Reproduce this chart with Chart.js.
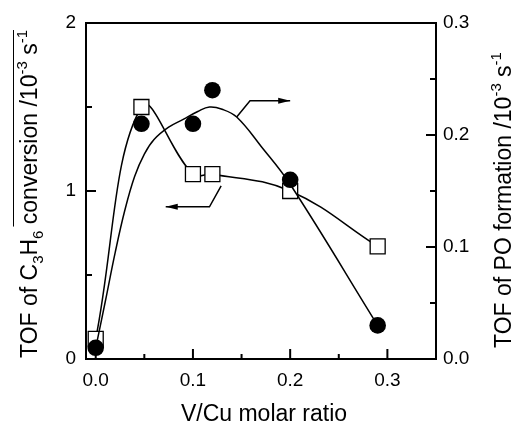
<!DOCTYPE html>
<html>
<head>
<meta charset="utf-8">
<script src="https://cdn.jsdelivr.net/npm/chart.js@4.4.1/dist/chart.umd.min.js"></script>
<style>
  html, body { margin: 0; padding: 0; background: #fff; }
</style>
</head>
<body>
<canvas id="tofChart" width="513" height="426"></canvas>
<script>
// V/Cu molar ratio of the catalysts
const vcuRatio = [0, 0.047, 0.1, 0.12, 0.2, 0.29];
// TOF of C3H6 conversion (left axis, 10^-3 s^-1)
const c3h6Tof = [0.12, 1.5, 1.1, 1.1, 1.0, 0.67];
// TOF of PO formation (right axis, 10^-3 s^-1)
const poTof = [0.01, 0.21, 0.21, 0.24, 0.16, 0.03];

// smooth trend line drawn through the PO data
const poTrendX = [0, 0.01, 0.02, 0.03, 0.04, 0.05, 0.06, 0.075, 0.09, 0.105, 0.117, 0.13, 0.145, 0.17, 0.2, 0.29];
const poTrendY = [0.01, 0.052, 0.095, 0.133, 0.163, 0.183, 0.196, 0.207, 0.214, 0.221, 0.225, 0.223, 0.216, 0.19, 0.156, 0.03];

// pointer arrows telling which axis each curve belongs to
const leftArrowX = [0.129, 0.117, 0.072];
const leftArrowY = [1.03, 0.906, 0.906];
const rightArrowX = [0.145, 0.1587, 0.2];
const rightArrowY = [0.216, 0.2306, 0.2306];

// tick positions
const xMajor = [0, 0.1, 0.2, 0.3];
const xMinor = [0.05, 0.15, 0.25];
const leftMajor = [0, 1, 2];
const leftMinor = [0.5, 1.5];
const rightMajor = [0, 0.1, 0.2, 0.3];
const rightMinor = [0.05, 0.15, 0.25];

// axis titles, split into normal / sub / sup runs
const xTitle = 'V/Cu molar ratio';
const leftTitle = [['TOF of C', 'n'], ['3', 'sub'], ['H', 'n'], ['6', 'sub'], [' conversion /10', 'n', 'over'], ['-3', 'sup', 'over'], [' s', 'n', 'over'], ['-1', 'sup', 'over']];
const rightTitle = [['TOF of PO formation /10', 'n'], ['-3', 'sup'], [' s', 'n'], ['-1', 'sup']];

const FONT = '"Liberation Sans", Arial, sans-serif';

function pairs(xs, ys) {
    return xs.map((x, i) => ({ x: x, y: ys[i] }));
}

// frame plus inward tick marks
const framePlugin = {
    id: 'frame',
    afterDatasetsDraw(chart) {
        const { ctx, chartArea: a, scales } = chart;
        ctx.save();
        ctx.strokeStyle = '#000';
        ctx.lineWidth = 2;
        ctx.strokeRect(a.left, a.top, a.right - a.left, a.bottom - a.top);

        ctx.beginPath();
        xMajor.forEach(v => { const p = scales.x.getPixelForValue(v); ctx.moveTo(p, a.bottom); ctx.lineTo(p, a.bottom - 10); });
        xMinor.forEach(v => { const p = scales.x.getPixelForValue(v); ctx.moveTo(p, a.bottom); ctx.lineTo(p, a.bottom - 5); });
        leftMajor.forEach(v => { const p = scales.yL.getPixelForValue(v); ctx.moveTo(a.left, p); ctx.lineTo(a.left + 10, p); });
        leftMinor.forEach(v => { const p = scales.yL.getPixelForValue(v); ctx.moveTo(a.left, p); ctx.lineTo(a.left + 6, p); });
        rightMajor.forEach(v => { const p = scales.yR.getPixelForValue(v); ctx.moveTo(a.right, p); ctx.lineTo(a.right - 10, p); });
        rightMinor.forEach(v => { const p = scales.yR.getPixelForValue(v); ctx.moveTo(a.right, p); ctx.lineTo(a.right - 6, p); });
        ctx.stroke();
        ctx.restore();
    }
};

// arrow heads on the pointer lines
const arrowPlugin = {
    id: 'arrowHeads',
    afterDatasetsDraw(chart) {
        const ctx = chart.ctx;
        chart.data.datasets.forEach((ds, i) => {
            if (!ds.arrow) return;
            const pts = chart.getDatasetMeta(i).data;
            const a = pts[pts.length - 2], b = pts[pts.length - 1];
            const ang = Math.atan2(b.y - a.y, b.x - a.x);
            ctx.save();
            ctx.translate(b.x, b.y);
            ctx.rotate(ang);
            ctx.fillStyle = '#000';
            ctx.beginPath();
            ctx.moveTo(0, 0);
            ctx.lineTo(-12, -3);
            ctx.lineTo(-12, 3);
            ctx.closePath();
            ctx.fill();
            ctx.restore();
        });
    }
};

// draws a run list rotated -90deg starting at (x, y), going upward
function drawRuns(ctx, runs, x, y, size, overOffset) {
    const small = Math.round(size * 0.65);
    ctx.save();
    ctx.translate(x, y);
    ctx.rotate(-Math.PI / 2);
    ctx.fillStyle = '#000';
    ctx.textBaseline = 'alphabetic';
    ctx.textAlign = 'left';
    let pos = 0, overStart = null;
    runs.forEach(r => {
        const kind = r[1];
        const sz = kind === 'n' ? size : small;
        ctx.font = sz + 'px ' + FONT;
        let dy = 0;
        if (kind === 'sub') dy = size * 0.28;
        if (kind === 'sup') dy = -size * 0.45;
        if (r[2] === 'over' && overStart === null) overStart = pos;
        ctx.fillText(r[0], pos, dy);
        pos += ctx.measureText(r[0]).width;
    });
    if (overStart !== null) {
        ctx.strokeStyle = '#000';
        ctx.lineWidth = 1;
        ctx.beginPath();
        ctx.moveTo(overStart + 4, overOffset);
        ctx.lineTo(pos, overOffset);
        ctx.stroke();
    }
    ctx.restore();
}

const titlePlugin = {
    id: 'axisTitles',
    afterDraw(chart) {
        const ctx = chart.ctx;
        ctx.save();
        ctx.fillStyle = '#000';
        ctx.font = '23px ' + FONT;
        ctx.textBaseline = 'alphabetic';
        ctx.textAlign = 'center';
        const a = chart.chartArea;
        ctx.fillText(xTitle, (a.left + a.right) / 2 + 3, 421);
        ctx.restore();
        drawRuns(ctx, leftTitle, 37, 358, 23, -23.5);
        drawRuns(ctx, rightTitle, 511, 348, 23, null);
    }
};

const ctx = document.getElementById('tofChart').getContext('2d');
const tofChart = new Chart(ctx, {
    type: 'line',
    data: {
        datasets: [
            {
                label: 'PO formation',
                data: pairs(vcuRatio, poTof),
                yAxisID: 'yR',
                showLine: false,
                pointStyle: 'circle',
                pointRadius: 8.3,
                pointBackgroundColor: '#000',
                pointBorderWidth: 0,
                order: 0
            },
            {
                label: 'PO trend',
                data: pairs(poTrendX, poTrendY),
                yAxisID: 'yR',
                borderColor: '#000',
                borderWidth: 1.5,
                tension: 0.4,
                pointRadius: 0,
                order: 1
            },
            {
                label: 'C3H6 conversion',
                data: pairs(vcuRatio, c3h6Tof),
                yAxisID: 'yL',
                borderColor: '#000',
                borderWidth: 1.5,
                tension: 0.4,
                pointStyle: 'rect',
                pointRadius: 10.6,
                pointBackgroundColor: '#fff',
                pointBorderColor: '#000',
                pointBorderWidth: 1.3,
                order: 2
            },
            {
                label: 'left arrow',
                data: pairs(leftArrowX, leftArrowY),
                yAxisID: 'yL',
                borderColor: '#000',
                borderWidth: 1.5,
                tension: 0,
                pointRadius: 0,
                arrow: true,
                order: 3
            },
            {
                label: 'right arrow',
                data: pairs(rightArrowX, rightArrowY),
                yAxisID: 'yR',
                borderColor: '#000',
                borderWidth: 1.5,
                tension: 0,
                pointRadius: 0,
                arrow: true,
                order: 3
            }
        ]
    },
    options: {
        responsive: false,
        animation: false,
        layout: { autoPadding: false, padding: { top: 23, left: 0, right: 0, bottom: 0 } },
        plugins: { legend: { display: false }, tooltip: { enabled: false } },
        scales: {
            x: {
                type: 'linear',
                min: -0.01,
                max: 0.35,
                grid: { display: false, drawTicks: false },
                border: { display: false },
                ticks: {
                    color: '#000',
                    font: { family: FONT, size: 19 },
                    padding: 10,
                    autoSkip: false,
                    maxRotation: 0,
                    callback: v => v.toFixed(1)
                },
                afterBuildTicks: s => { s.ticks = xMajor.map(v => ({ value: v })); },
                afterFit: s => { s.height = 67; }
            },
            yL: {
                type: 'linear',
                position: 'left',
                min: 0,
                max: 2,
                grid: { display: false, drawTicks: false },
                border: { display: false },
                ticks: {
                    color: '#000',
                    font: { family: FONT, size: 19 },
                    padding: 10,
                    autoSkip: false,
                    callback: v => String(v)
                },
                afterBuildTicks: s => { s.ticks = leftMajor.map(v => ({ value: v })); },
                afterFit: s => { s.width = 86; }
            },
            yR: {
                type: 'linear',
                position: 'right',
                min: 0,
                max: 0.3,
                grid: { display: false, drawTicks: false },
                border: { display: false },
                ticks: {
                    color: '#000',
                    font: { family: FONT, size: 19 },
                    padding: 7,
                    autoSkip: false,
                    callback: v => v.toFixed(1)
                },
                afterBuildTicks: s => { s.ticks = rightMajor.map(v => ({ value: v })); },
                afterFit: s => { s.width = 77; }
            }
        }
    },
    plugins: [framePlugin, arrowPlugin, titlePlugin]
});
</script>
</body>
</html>
